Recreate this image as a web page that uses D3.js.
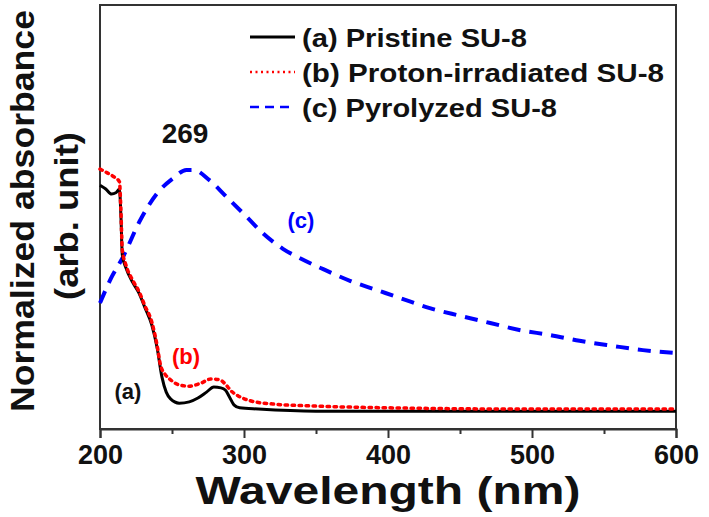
<!DOCTYPE html>
<html><head><meta charset="utf-8">
<script src="https://cdn.jsdelivr.net/npm/d3@7"></script>
<style>body{margin:0;background:#fff}svg{display:block}text{font-family:"Liberation Sans",Arial,sans-serif;font-weight:bold}</style>
</head><body><svg id="c" width="709" height="517"></svg>
<script>
// Data (normalized absorbance, arb. unit)
const wlA = [200,204,208,211,213.5,214.5,215.5,218,223,227,231,236,239.6,243,246,249,255,262,268,274,279,284,287,290,293,297,310,350,450,600];
const absA = [0.575,0.566,0.554,0.557,0.566,0.505,0.410,0.380,0.344,0.321,0.288,0.245,0.193,0.123,0.087,0.071,0.061,0.064,0.073,0.087,0.099,0.097,0.092,0.075,0.057,0.050,0.047,0.042,0.042,0.042];
const wlB = [200,205,210,213.5,214.5,215.5,218,223,227,231,236,239.6,242,245,249,255,262,270,277,283,287,291,296,305,320,350,400,500,600];
const absB = [0.613,0.604,0.594,0.583,0.517,0.422,0.387,0.349,0.325,0.292,0.252,0.198,0.151,0.130,0.116,0.104,0.101,0.108,0.118,0.116,0.106,0.090,0.078,0.066,0.059,0.054,0.050,0.047,0.047];
const wlC = [200,207,216,228,240,251,260,265,276,288,302,313,327,340,355,374,392,410,429,450,471,492,512,533,556,577,600];
const absC = [0.297,0.351,0.406,0.493,0.557,0.592,0.611,0.611,0.587,0.547,0.500,0.462,0.425,0.401,0.377,0.349,0.328,0.307,0.285,0.267,0.250,0.233,0.222,0.208,0.196,0.186,0.179];
const xTicks = [200,300,400,500,600];
const minorTicks = [250,350,450,550];
const legendLabels = ["(a) Pristine SU-8","(b) Proton-irradiated SU-8","(c) Pyrolyzed SU-8"];

const svg = d3.select("#c");
const L=100,R=676,T=5,B=429;
const x = d3.scaleLinear().domain([200,600]).range([L,R]);
const y = d3.scaleLinear().domain([0,1]).range([B,T]);

// frame
svg.append("rect").attr("x",L).attr("y",T).attr("width",R-L).attr("height",B-T)
  .attr("fill","none").attr("stroke","#333").attr("stroke-width",2);

// x axis
const gx = svg.append("g").attr("transform",`translate(0,${B})`)
  .call(d3.axisBottom(x).tickValues(xTicks).tickSize(9).tickPadding(7).tickFormat(d3.format("d")));
gx.select(".domain").attr("stroke","#333").attr("stroke-width",2);
gx.selectAll(".tick line").attr("stroke","#333").attr("stroke-width",2);
gx.selectAll(".tick text").attr("font-size",27).attr("fill","#111").attr("font-family","Liberation Sans, Arial").attr("font-weight","bold");
const gm = svg.append("g").attr("transform",`translate(0,${B})`)
  .call(d3.axisBottom(x).tickValues(minorTicks).tickSize(5).tickFormat(""));
gm.select(".domain").remove();
gm.selectAll(".tick line").attr("stroke","#333").attr("stroke-width",2);

const line = d3.line().x(d=>x(d[0])).y(d=>y(d[1])).curve(d3.curveMonotoneX);
const series = [
  {wl:wlA, v:absA, color:"#000", dash:null, w:3},
  {wl:wlB, v:absB, color:"#f00", dash:"2.5,4.5", w:3.5},
  {wl:wlC, v:absC, color:"#00f", dash:"13,9", w:4}
];
// draw c, a, b order
[2,0,1].forEach(i=>{
  const s=series[i];
  svg.append("path").datum(d3.zip(s.wl,s.v)).attr("d",line)
    .attr("fill","none").attr("stroke",s.color).attr("stroke-width",s.w)
    .attr("stroke-dasharray",s.dash).attr("stroke-linecap", i===1?"round":"butt");
});

// legend
const legY=[37,72,107], legW=[225,362,255];
const legDash=[null,"2,3.5","9,6"];
series.forEach((s,i)=>{
  svg.append("line").attr("x1",250).attr("x2",295).attr("y1",legY[i]).attr("y2",legY[i])
    .attr("stroke",s.color).attr("stroke-width",i===0?3:2.5).attr("stroke-dasharray",legDash[i]);
  svg.append("text").attr("x",302).attr("y",legY[i]+10).attr("font-size",26).attr("fill","#111")
    .attr("textLength",legW[i]).attr("lengthAdjust","spacingAndGlyphs").text(legendLabels[i]);
});

// annotations
svg.append("text").attr("x",185).attr("y",143).attr("text-anchor","middle").attr("font-size",28).attr("fill","#111").text("269");
svg.append("text").attr("x",186).attr("y",364).attr("text-anchor","middle").attr("font-size",22).attr("fill","#f00").text("(b)");
svg.append("text").attr("x",128).attr("y",399).attr("text-anchor","middle").attr("font-size",22).attr("fill","#111").text("(a)");
svg.append("text").attr("x",301).attr("y",228).attr("text-anchor","middle").attr("font-size",22).attr("fill","#00f").text("(c)");

// axis titles
svg.append("text").attr("x",388).attr("y",504).attr("text-anchor","middle").attr("font-size",38).attr("fill","#111")
  .attr("textLength",385).attr("lengthAdjust","spacingAndGlyphs").text("Wavelength (nm)");
svg.append("text").attr("transform","translate(34,211) rotate(-90)").attr("text-anchor","middle").attr("font-size",34).attr("fill","#111")
  .attr("textLength",402).attr("lengthAdjust","spacingAndGlyphs").text("Normalized absorbance");
svg.append("text").attr("transform","translate(78,216) rotate(-90)").attr("text-anchor","middle").attr("font-size",33).attr("fill","#111")
  .attr("textLength",168).attr("lengthAdjust","spacingAndGlyphs").text("(arb. unit)");
</script></body></html>
